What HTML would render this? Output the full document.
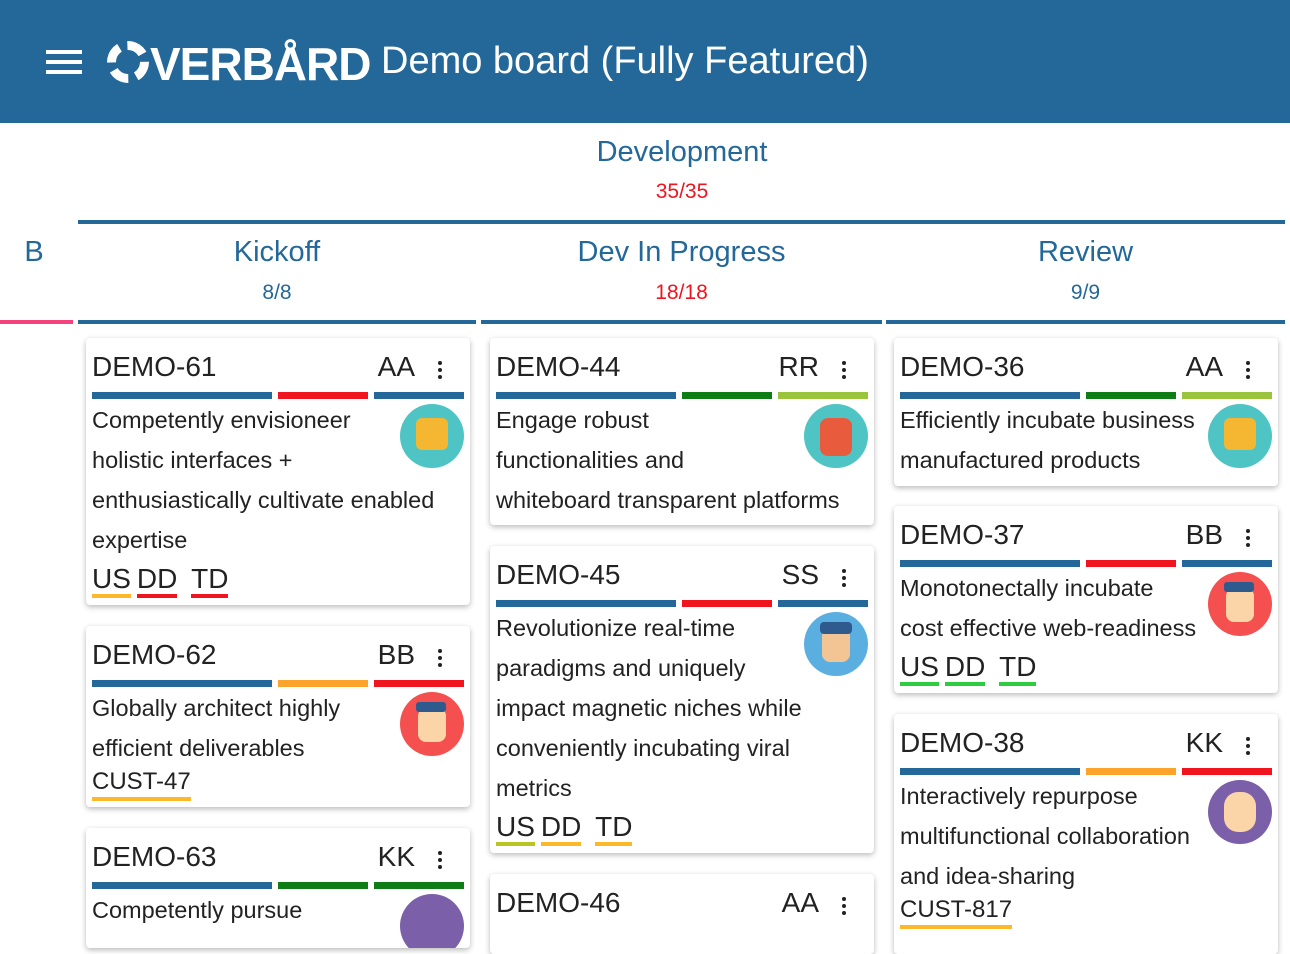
<!DOCTYPE html>
<html><head><meta charset="utf-8"><style>
*{margin:0;padding:0;box-sizing:border-box}
body{width:1290px;height:910px;overflow:hidden;background:#fff;font-family:"Liberation Sans",Arial,sans-serif;position:relative;color:#222}
.hdr{position:absolute;left:0;top:0;width:1290px;height:123px;background:#236899}
.ham{position:absolute;left:46px;width:36px;height:4px;background:#fff}
.abs{position:absolute}
.blue{color:#236899}
.ln{position:absolute;height:4px;background:#236899}
.ct{position:absolute;text-align:center;font-size:29px;color:#236899}
.cn{position:absolute;text-align:center;font-size:21px}
.card{position:absolute;width:384px;background:#fff;border-radius:4px;box-shadow:0 2px 6px rgba(0,0,0,.28);overflow:hidden}
.id{position:absolute;left:6px;top:13px;font-size:28px;color:#222}
.who{position:absolute;right:55px;top:13px;font-size:28px;color:#222}
.dots{position:absolute;right:28px;top:23px;width:4px}
.dots i{display:block;width:4px;height:4px;border-radius:2px;background:#222;margin-bottom:3px}
.bar{position:absolute;top:54px;height:7px}
.txt{position:absolute;left:6px;top:62px;width:380px;font-size:23.5px;line-height:40px;color:#222}
.av{position:absolute;right:6px;top:66px;width:64px;height:64px;border-radius:50%;overflow:hidden}
.tags{position:absolute;left:6px;font-size:28px;color:#222;white-space:nowrap}
.tags span{display:inline-block;border-bottom:4px solid;line-height:30px;margin-right:6px}
</style></head><body>
<div class="hdr">
<div class="ham" style="top:50px"></div><div class="ham" style="top:60px"></div><div class="ham" style="top:70px"></div>
<div class="abs" style="left:107px;top:41px;width:42px;height:42px;border:9px dashed #fff;border-radius:50%"></div>
<div class="abs" style="left:150px;top:37px;font-size:46px;font-weight:bold;color:#fff;letter-spacing:-1px">VERBÅRD</div>
<div class="abs" style="left:381px;top:40px;font-size:38px;color:#fff">Demo board (Fully Featured)</div>
</div>
<div class="ct" style="left:480px;width:404px;top:136px">Development</div>
<div class="cn" style="left:480px;width:404px;top:180px;color:#f0141e">35/35</div>
<div class="ln" style="left:78px;width:1207px;top:220px"></div>
<div class="ct" style="left:0;width:68px;top:236px">B</div>
<div class="ct" style="left:78px;width:398px;top:236px">Kickoff</div>
<div class="cn blue" style="left:78px;width:398px;top:281px">8/8</div>
<div class="ct" style="left:481px;width:401px;top:236px">Dev In Progress</div>
<div class="cn" style="left:481px;width:401px;top:281px;color:#f0141e">18/18</div>
<div class="ct" style="left:886px;width:399px;top:236px">Review</div>
<div class="cn blue" style="left:886px;width:399px;top:281px">9/9</div>
<div class="ln" style="left:0;width:73px;top:320px;background:#f5427c"></div>
<div class="ln" style="left:78px;width:398px;top:320px"></div>
<div class="ln" style="left:481px;width:401px;top:320px"></div>
<div class="ln" style="left:886px;width:399px;top:320px"></div>

<!-- Column 1 -->
<div class="card" style="left:86px;top:338px;height:267px">
<div class="id">DEMO-61</div><div class="who">AA</div><div class="dots"><i></i><i></i><i></i></div>
<div class="bar" style="left:6px;width:180px;background:#236899"></div><div class="bar" style="left:192px;width:90px;background:#f0141e"></div><div class="bar" style="left:288px;width:90px;background:#236899"></div>
<div class="av" style="background:#4fc4c4"><div class="abs" style="left:16px;top:14px;width:32px;height:32px;background:#f5b731;border-radius:6px"></div></div>
<div class="txt">Competently envisioneer<br>holistic interfaces +<br>enthusiastically cultivate enabled<br>expertise</div>
<div class="tags" style="top:225px"><span style="border-color:#fbb829">US</span><span style="border-color:#f0141e">DD</span> <span style="border-color:#f0141e">TD</span></div>
</div>
<div class="card" style="left:86px;top:626px;height:181px">
<div class="id">DEMO-62</div><div class="who">BB</div><div class="dots"><i></i><i></i><i></i></div>
<div class="bar" style="left:6px;width:180px;background:#236899"></div><div class="bar" style="left:192px;width:90px;background:#fca32b"></div><div class="bar" style="left:288px;width:90px;background:#f0141e"></div>
<div class="av" style="background:#f55050"><div class="abs" style="left:18px;top:16px;width:28px;height:34px;background:#fbd5a8;border-radius:8px"></div><div class="abs" style="left:16px;top:10px;width:30px;height:10px;background:#2f5a8e;border-radius:3px"></div></div>
<div class="txt">Globally architect highly<br>efficient deliverables</div>
<div class="tags" style="top:141px;font-size:24px"><span style="border-color:#fbb829">CUST-47</span></div>
</div>
<div class="card" style="left:86px;top:828px;height:120px">
<div class="id">DEMO-63</div><div class="who">KK</div><div class="dots"><i></i><i></i><i></i></div>
<div class="bar" style="left:6px;width:180px;background:#236899"></div><div class="bar" style="left:192px;width:90px;background:#0f7d15"></div><div class="bar" style="left:288px;width:90px;background:#0f7d15"></div>
<div class="txt">Competently pursue</div>
<div class="av" style="background:#7b5fa8"></div>
</div>

<!-- Column 2 -->
<div class="card" style="left:490px;top:338px;height:187px">
<div class="id">DEMO-44</div><div class="who">RR</div><div class="dots"><i></i><i></i><i></i></div>
<div class="bar" style="left:6px;width:180px;background:#236899"></div><div class="bar" style="left:192px;width:90px;background:#0f7d15"></div><div class="bar" style="left:288px;width:90px;background:#9ac43c"></div>
<div class="av" style="background:#4fc4c4"><div class="abs" style="left:16px;top:14px;width:32px;height:38px;background:#e85b3d;border-radius:8px"></div></div>
<div class="txt">Engage robust<br>functionalities and<br>whiteboard transparent platforms</div>
</div>
<div class="card" style="left:490px;top:546px;height:307px">
<div class="id">DEMO-45</div><div class="who">SS</div><div class="dots"><i></i><i></i><i></i></div>
<div class="bar" style="left:6px;width:180px;background:#236899"></div><div class="bar" style="left:192px;width:90px;background:#f0141e"></div><div class="bar" style="left:288px;width:90px;background:#236899"></div>
<div class="av" style="background:#5aaee0"><div class="abs" style="left:18px;top:16px;width:28px;height:34px;background:#f3c595;border-radius:8px"></div><div class="abs" style="left:16px;top:10px;width:32px;height:12px;background:#2f5a8e;border-radius:4px"></div></div>
<div class="txt">Revolutionize real-time<br>paradigms and uniquely<br>impact magnetic niches while<br>conveniently incubating viral<br>metrics</div>
<div class="tags" style="top:265px"><span style="border-color:#b9c523">US</span><span style="border-color:#fbb829">DD</span> <span style="border-color:#fbb829">TD</span></div>
</div>
<div class="card" style="left:490px;top:874px;height:80px">
<div class="id">DEMO-46</div><div class="who">AA</div><div class="dots"><i></i><i></i><i></i></div>
</div>

<!-- Column 3 -->
<div class="card" style="left:894px;top:338px;height:148px">
<div class="id">DEMO-36</div><div class="who">AA</div><div class="dots"><i></i><i></i><i></i></div>
<div class="bar" style="left:6px;width:180px;background:#236899"></div><div class="bar" style="left:192px;width:90px;background:#0f7d15"></div><div class="bar" style="left:288px;width:90px;background:#9ac43c"></div>
<div class="av" style="background:#4fc4c4"><div class="abs" style="left:16px;top:14px;width:32px;height:32px;background:#f5b731;border-radius:6px"></div></div>
<div class="txt">Efficiently incubate business<br>manufactured products</div>
</div>
<div class="card" style="left:894px;top:506px;height:187px">
<div class="id">DEMO-37</div><div class="who">BB</div><div class="dots"><i></i><i></i><i></i></div>
<div class="bar" style="left:6px;width:180px;background:#236899"></div><div class="bar" style="left:192px;width:90px;background:#f0141e"></div><div class="bar" style="left:288px;width:90px;background:#236899"></div>
<div class="av" style="background:#f55050"><div class="abs" style="left:18px;top:16px;width:28px;height:34px;background:#fbd5a8;border-radius:8px"></div><div class="abs" style="left:16px;top:10px;width:30px;height:10px;background:#2f5a8e;border-radius:3px"></div></div>
<div class="txt">Monotonectally incubate<br>cost effective web-readiness</div>
<div class="tags" style="top:145px"><span style="border-color:#2ecc40">US</span><span style="border-color:#2ecc40">DD</span> <span style="border-color:#2ecc40">TD</span></div>
</div>
<div class="card" style="left:894px;top:714px;height:240px">
<div class="id">DEMO-38</div><div class="who">KK</div><div class="dots"><i></i><i></i><i></i></div>
<div class="bar" style="left:6px;width:180px;background:#236899"></div><div class="bar" style="left:192px;width:90px;background:#fca32b"></div><div class="bar" style="left:288px;width:90px;background:#f0141e"></div>
<div class="av" style="background:#7b5fa8"><div class="abs" style="left:16px;top:12px;width:32px;height:40px;background:#fbd5a8;border-radius:14px"></div></div>
<div class="txt">Interactively repurpose<br>multifunctional collaboration<br>and idea-sharing</div>
<div class="tags" style="top:181px;font-size:24px"><span style="border-color:#fbb829">CUST-817</span></div>
</div>
</body></html>
